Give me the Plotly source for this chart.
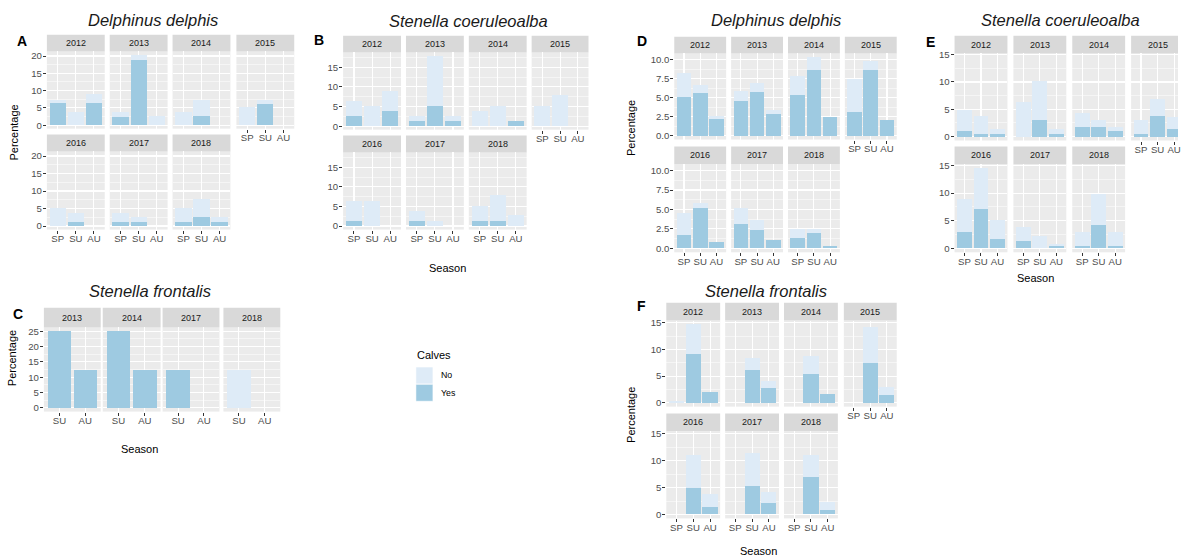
import plotly.graph_objects as go

# ---------------- data ----------------
SEASONS3 = ["SP", "SU", "AU"]
SEASONS2 = ["SU", "AU"]
YEARS7 = [2012, 2013, 2014, 2015, 2016, 2017, 2018]
YEARS_C = [2013, 2014, 2017, 2018]

# Panel A: Delphinus delphis
A_yes = [[6.4, 0, 6.4], [2.4, 18.9, 0], [0, 2.7, 0], [0, 6.1, 0],
         [0, 1.2, 0], [1.2, 1.2, 0], [1.2, 2.5, 1.2]]
A_no = [[1.0, 3.8, 2.5], [1.4, 1.4, 2.7], [3.8, 4.7, 0], [5.3, 1.3, 0],
        [5.2, 2.5, 0], [2.5, 1.3, 0], [4.0, 5.2, 1.3]]

# Panel B: Stenella coeruleoalba
B_yes = [[2.7, 0, 3.9], [1.4, 5.2, 1.2], [0, 0, 1.4], [0, 0, 0],
         [1.2, 0, 0], [1.4, 0, 0], [1.4, 1.2, 0]]
B_no = [[3.8, 5.1, 5.1], [1.3, 12.7, 1.5], [3.9, 5.2, 0], [5.2, 7.9, 0],
        [5.2, 6.4, 0], [2.5, 1.35, 0], [3.8, 6.6, 2.7]]

# Panel C: Stenella frontalis
C_yes = [[25, 12.5], [25, 12.5], [12.5, 0], [0, 0]]
C_no = [[0, 0], [0, 0], [0, 0], [12.5, 0]]

# Panel D: Delphinus delphis
D_yes = [[5.05, 5.55, 2.25], [4.5, 5.8, 2.9], [5.4, 8.7, 2.4], [3.1, 8.7, 2.1],
         [1.75, 5.2, 0.85], [3.1, 2.4, 1.1], [1.35, 2.0, 0.35]]
D_no = [[3.25, 1.15, 0.35], [1.4, 1.15, 0.5], [2.4, 1.6, 0.1], [4.3, 1.1, 0],
        [2.75, 0.6, 0], [2.1, 1.25, 0], [1.1, 0.45, 0]]

# Panel E: Stenella coeruleoalba
E_yes = [[1.0, 0.5, 0.5], [0, 3.0, 0.5], [1.7, 1.7, 1.0], [0.5, 3.85, 1.35],
         [3.0, 7.2, 1.7], [1.35, 0, 0.5], [0.5, 4.2, 0.5]]
E_no = [[3.8, 3.35, 0.85], [6.35, 7.25, 0.85], [2.7, 1.3, 0.7], [2.5, 3.05, 2.15],
        [6.0, 7.3, 3.4], [2.5, 2.25, 0.25], [2.5, 5.7, 2.5]]

# Panel F: Stenella frontalis
F_yes = [[0, 9.1, 2.0], [0, 6.2, 2.7], [0, 5.45, 1.65], [0, 7.45, 1.45],
         [0, 4.9, 1.45], [0, 5.3, 2.2], [0, 6.9, 0.75]]
F_no = [[0.35, 5.6, 0], [0, 2.2, 1.3], [0, 3.3, 0], [0, 6.75, 1.45],
        [0, 6.2, 2.35], [0, 6.2, 2.0], [0, 4.2, 1.65]]

# ---------------- style / layout ----------------
W, H = 1181, 559
YES_COL = "#9ECAE1"
NO_COL = "#DEEBF7"
FONT = "Liberation Sans, Arial, sans-serif"
TICK_SIZE = 9.6


def px(x):
    return x / W


def py(y):
    return 1 - y / H


blocks = [
    dict(letter="A", title="Delphinus delphis", years=YEARS7, cats=SEASONS3, yes=A_yes, no=A_no,
         cols=[(47, 105), (110, 168), (173, 231), (237, 295)],
         rows=[(31, 48, 126), (132, 149, 228)], ncol=4, dtick=5, fmt="d",
         title_xy=(153, 16), letter_xy=(22, 37), ylab_xy=(14, 130), xlab_xy=None),
    dict(letter="B", title="Stenella coeruleoalba", years=YEARS7, cats=SEASONS3, yes=B_yes, no=B_no,
         cols=[(344, 402), (407, 465), (470, 528), (533, 590)],
         rows=[(32, 49, 127), (133, 150, 228)], ncol=4, dtick=5, fmt="d",
         title_xy=(470, 17), letter_xy=(320, 36), ylab_xy=None, xlab_xy=(449, 267)),
    dict(letter="C", title="Stenella frontalis", years=YEARS_C, cats=SEASONS2, yes=C_yes, no=C_no,
         cols=[(44, 101), (103, 161), (163, 220), (224, 281)],
         rows=[(307, 327, 412)], ncol=4, dtick=5, fmt="d",
         title_xy=(150, 290), letter_xy=(18, 313), ylab_xy=(12, 358), xlab_xy=(140, 450)),
    dict(letter="D", title="Delphinus delphis", years=YEARS7, cats=SEASONS3, yes=D_yes, no=D_no,
         cols=[(676, 728), (733, 785), (790, 842), (847, 899)],
         rows=[(33, 50, 137), (144, 162, 251)], ncol=4, dtick=2.5, fmt=".1f",
         title_xy=(778, 16), letter_xy=(644, 37), ylab_xy=(632, 125), xlab_xy=None),
    dict(letter="E", title="Stenella coeruleoalba", years=YEARS7, cats=SEASONS3, yes=E_yes, no=E_no,
         cols=[(957, 1010), (1016, 1069), (1075, 1128), (1134, 1187)],
         rows=[(32, 50, 138), (144, 162, 251)], ncol=4, dtick=5, fmt="d",
         title_xy=(1063, 16), letter_xy=(933, 38), ylab_xy=None, xlab_xy=(1038, 277)),
    dict(letter="F", title="Stenella frontalis", years=YEARS7, cats=SEASONS3, yes=F_yes, no=F_no,
         cols=[(668, 722), (727, 781), (786, 840), (846, 899)],
         rows=[(302, 320, 407), (414, 432, 520)], ncol=4, dtick=5, fmt="d",
         title_xy=(768, 290), letter_xy=(643, 305), ylab_xy=(632, 415), xlab_xy=(760, 553)),
]

fig = go.Figure()
shapes = []
annotations = []
layout_axes = {}
k = 0

for b in blocks:
    years, cats = b["years"], b["cats"]
    n, ncol = len(years), b["ncol"]
    M = max(yy + nn for yv, nv in zip(b["yes"], b["no"]) for yy, nn in zip(yv, nv))
    yrange = [-0.05 * M, 1.05 * M]
    for i, yr in enumerate(years):
        r, c = divmod(i, ncol)
        k += 1
        xa = "x" if k == 1 else f"x{k}"
        ya = "y" if k == 1 else f"y{k}"
        c0, c1 = b["cols"][c]
        st, sb, pb = b["rows"][r]
        vis1 = min(c1, W)
        ncat = len(cats)
        xr1 = -0.6 + (vis1 - c0) / (c1 - c0) * (ncat + 0.2)
        bottom = i + ncol >= n
        left = c == 0

        fig.add_trace(go.Bar(x=cats, y=b["yes"][i], marker=dict(color=YES_COL, line=dict(width=0)),
                             width=0.9, xaxis=xa, yaxis=ya, name="Yes", showlegend=False,
                             hoverinfo="skip"))
        fig.add_trace(go.Bar(x=cats, y=b["no"][i], marker=dict(color=NO_COL, line=dict(width=0)),
                             width=0.9, xaxis=xa, yaxis=ya, name="No", showlegend=False,
                             hoverinfo="skip"))

        layout_axes["xaxis" if k == 1 else f"xaxis{k}"] = dict(
            domain=[px(c0), px(vis1)], anchor=ya, type="category",
            categoryorder="array", categoryarray=cats, range=[-0.6, xr1],
            showgrid=True, gridcolor="white", gridwidth=1.1, zeroline=False,
            showline=False, fixedrange=True,
            ticks="outside" if bottom else "", ticklen=3, tickwidth=1, tickcolor="#333333",
            ticklabelstandoff=-3,
            showticklabels=bottom, tickfont=dict(size=TICK_SIZE, color="#4D4D4D", family=FONT),
        )
        layout_axes["yaxis" if k == 1 else f"yaxis{k}"] = dict(
            domain=[py(pb), py(sb)], anchor=xa, range=yrange,
            tick0=0, dtick=b["dtick"], tickformat=b["fmt"],
            showgrid=True, gridcolor="white", gridwidth=1.1, zeroline=False,
            showline=False, fixedrange=True,
            minor=dict(tick0=0, dtick=b["dtick"] / 2, showgrid=True, gridcolor="white",
                       gridwidth=0.5, ticks=""),
            ticks="outside" if left else "", ticklen=3, tickwidth=1, tickcolor="#333333",
            ticklabelstandoff=-1,
            showticklabels=left, tickfont=dict(size=TICK_SIZE, color="#4D4D4D", family=FONT),
        )
        # facet strip
        shapes.append(dict(type="rect", xref="paper", yref="paper",
                           x0=px(c0), x1=px(vis1), y0=py(sb), y1=py(st),
                           fillcolor="#D9D9D9", line=dict(width=0), layer="below"))
        annotations.append(dict(text=str(yr), xref="paper", yref="paper",
                                x=px((c0 + c1) / 2), y=py((st + sb) / 2),
                                showarrow=False, xanchor="center", yanchor="middle",
                                font=dict(size=9, color="#1A1A1A", family=FONT)))

    tx, ty = b["title_xy"]
    annotations.append(dict(text=f"<i>{b['title']}</i>", xref="paper", yref="paper",
                            x=px(tx), y=py(ty), showarrow=False, xanchor="center",
                            yanchor="middle", font=dict(size=16.5, color="#1A1A1A", family=FONT)))
    lx, ly = b["letter_xy"]
    annotations.append(dict(text=f"<b>{b['letter']}</b>", xref="paper", yref="paper",
                            x=px(lx), y=py(ly), showarrow=False, xanchor="center",
                            yanchor="middle", font=dict(size=14, color="black", family=FONT)))
    if b["ylab_xy"]:
        yx, yy = b["ylab_xy"]
        annotations.append(dict(text="Percentage", xref="paper", yref="paper",
                                x=px(yx), y=py(yy), showarrow=False, textangle=-90,
                                xanchor="center", yanchor="middle",
                                font=dict(size=11, color="black", family=FONT)))
    if b["xlab_xy"]:
        sx, sy = b["xlab_xy"]
        annotations.append(dict(text="Season", xref="paper", yref="paper",
                                x=px(sx), y=py(sy), showarrow=False,
                                xanchor="center", yanchor="middle",
                                font=dict(size=11, color="black", family=FONT)))

# legend (drawn manually, ggplot style)
LEG_LABELS = ["No", "Yes"]
LEG_COLS = [NO_COL, YES_COL]
annotations.append(dict(text="Calves", xref="paper", yref="paper", x=px(416), y=py(355),
                        showarrow=False, xanchor="left", yanchor="middle",
                        font=dict(size=11, color="black", family=FONT)))
for j, (lab, col) in enumerate(zip(LEG_LABELS, LEG_COLS)):
    y0 = 367 + j * 17.5
    shapes.append(dict(type="rect", xref="paper", yref="paper",
                       x0=px(417), x1=px(434), y0=py(y0 + 17), y1=py(y0),
                       fillcolor=col, line=dict(width=0.5, color="white")))
    annotations.append(dict(text=lab, xref="paper", yref="paper", x=px(440), y=py(y0 + 8.5),
                            showarrow=False, xanchor="left", yanchor="middle",
                            font=dict(size=8.8, color="black", family=FONT)))

fig.update_layout(
    width=W, height=H, autosize=False,
    margin=dict(l=0, r=0, t=0, b=0, pad=0),
    paper_bgcolor="white", plot_bgcolor="#EBEBEB",
    barmode="stack", showlegend=False,
    font=dict(family=FONT),
    shapes=shapes, annotations=annotations,
    **layout_axes,
)

fig.write_html(
    "out.html",
    config={"displayModeBar": False, "staticPlot": True},
    post_script="document.body.style.margin='0';document.body.style.overflow='hidden';",
)
